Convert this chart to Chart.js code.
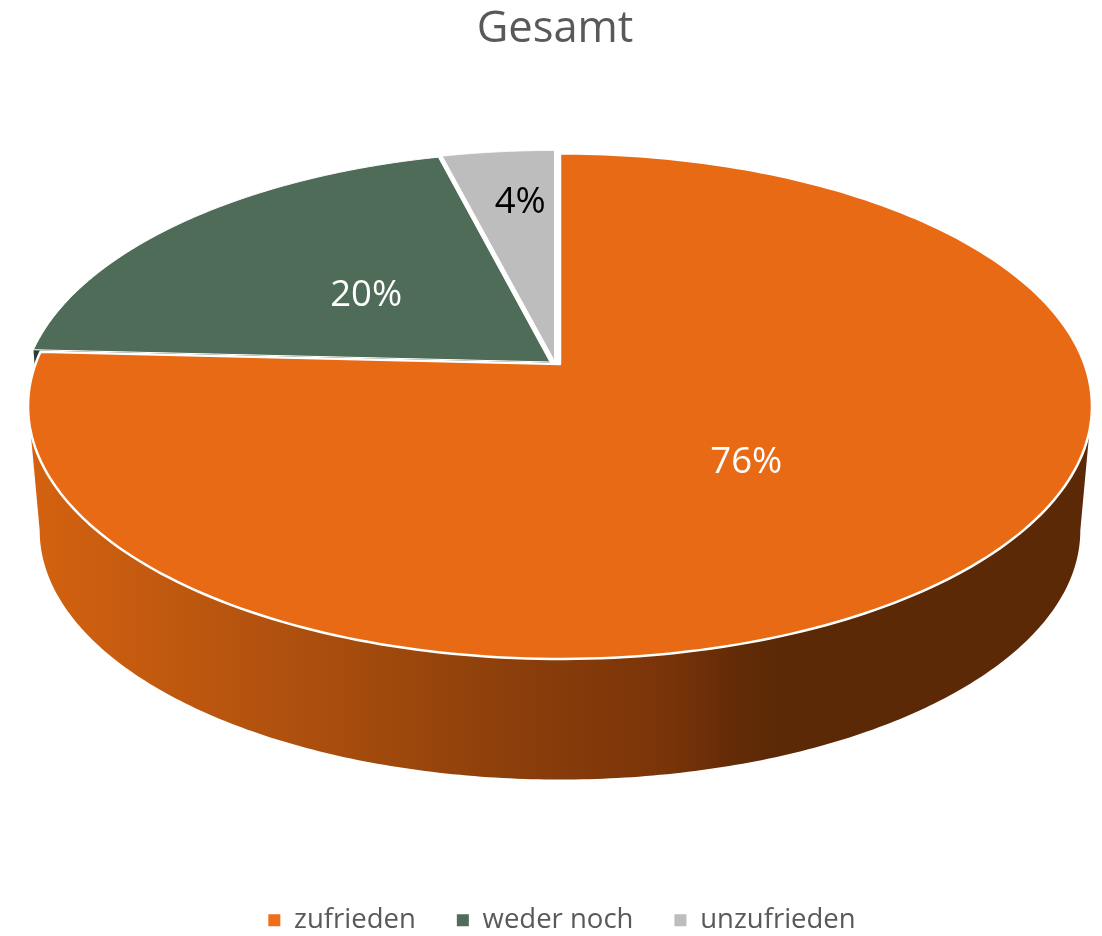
<!DOCTYPE html>
<html>
<head>
<meta charset="utf-8">
<title>Gesamt</title>
<script src="https://cdn.jsdelivr.net/npm/chart.js@4"></script>
<style>
  body { margin: 0; background: #fff; }
  canvas { display: block; }
</style>
</head>
<body>
<canvas id="pieChart" width="1102" height="936"></canvas>
<script>
const labels = ['zufrieden', 'weder noch', 'unzufrieden'];
const values = [75.8, 20.2, 4];
const legendColors = ['#F06E18', '#4F6C59', '#BDBDBD'];

// top faces, the orange one is a bit duller than its legend box
const faceColors = ['#E96A15', '#4F6C59', '#BDBDBD'];
const labelColors = ['#fff', '#fff', '#000'];
const labelRadius = [0.49, 0.47, 0.72];
const labelNudge = [[-2, 6], [-3, 3], [8, -2]];
const k = 0.167; // perspective of the tilted disc

// one projected disc per slice, the two small slices are pulled out a little
const tops = [
  { cx: 560, cy: 364, A: 524.5, B: 245.7 },
  { cx: 550, cy: 362, A: 521.5, B: 245.7 },
  { cx: 554.5, cy: 361, A: 524.5, B: 245.7 }
];
const bottomDisc = { cx: 560, cy: 489, A: 513, B: 242 };
const greenBottom = { cx: 550, cy: 487, A: 513, B: 242 };

function project(disc, angle, r = 1) {
  const den = 1 - k * r * Math.sin(angle);
  return [disc.cx + disc.A * r * Math.cos(angle) / den, disc.cy + disc.B * r * Math.sin(angle) / den];
}

function traceRim(ctx, disc, from, to) {
  const steps = 240;
  for (let i = 0; i <= steps; i++) {
    const p = project(disc, from + (to - from) * i / steps);
    ctx.lineTo(p[0], p[1]);
  }
}

const tiltedPie = {
  id: 'tiltedPie',
  afterLayout(chart) {
    // title and legend sit a little right of the middle, legend also lower
    chart.titleBlock.left += 4;
    chart.titleBlock.right += 4;
    chart.legend.left += 11;
    chart.legend.right += 11;
    chart.legend.top += 8;
    chart.legend.bottom += 8;
  },
  beforeDatasetDraw(chart) {
    const ctx = chart.ctx;
    const arcs = chart.getDatasetMeta(0).data;
    const deg = Math.PI / 180;
    ctx.save();

    // cut face of the green slice, only its tip stays visible next to the orange
    const tip = arcs[1].startAngle;
    const g1 = project(tops[1], tip);
    const g2 = project(greenBottom, tip);
    ctx.beginPath();
    ctx.moveTo(tops[1].cx, tops[1].cy);
    ctx.lineTo(g1[0], g1[1]);
    ctx.lineTo(g2[0], g2[1]);
    ctx.lineTo(greenBottom.cx, greenBottom.cy);
    ctx.closePath();
    ctx.fillStyle = '#2C3E32';
    ctx.fill();

    // orange side wall
    const wall = ctx.createLinearGradient(30, 0, 1090, 0);
    wall.addColorStop(0, '#D46210');
    wall.addColorStop(0.25, '#AE500E');
    wall.addColorStop(0.45, '#8C3F0B');
    wall.addColorStop(0.6, '#7A3409');
    wall.addColorStop(0.66, '#642C07');
    wall.addColorStop(0.7, '#5C2906');
    wall.addColorStop(1, '#5C2906');
    ctx.beginPath();
    const s = project(tops[0], 15 * deg);
    ctx.moveTo(s[0], s[1]);
    traceRim(ctx, tops[0], 15 * deg, 165 * deg);
    traceRim(ctx, bottomDisc, 170.4 * deg, 9.6 * deg);
    ctx.closePath();
    ctx.fillStyle = wall;
    ctx.fill();

    // top faces, grey and green first, orange over them
    [2, 1, 0].forEach(i => {
      const disc = tops[i];
      ctx.beginPath();
      ctx.moveTo(disc.cx, disc.cy);
      traceRim(ctx, disc, arcs[i].startAngle, arcs[i].endAngle);
      ctx.closePath();
      ctx.fillStyle = faceColors[i];
      ctx.fill();
      ctx.strokeStyle = '#fff';
      ctx.lineWidth = i === 0 ? 2.5 : 1;
      ctx.lineJoin = 'round';
      ctx.stroke();
    });

    // percent labels
    ctx.font = '36.5px "Open Sans"';
    ctx.textAlign = 'center';
    ctx.textBaseline = 'middle';
    arcs.forEach((arc, i) => {
      const mid = (arc.startAngle + arc.endAngle) / 2;
      const p = project(tops[i], mid, labelRadius[i]);
      ctx.fillStyle = labelColors[i];
      ctx.fillText(Math.round(values[i]) + '%', p[0] + labelNudge[i][0], p[1] + labelNudge[i][1]);
    });

    ctx.restore();
    return false; // the library's round arcs are not drawn
  }
};

new Chart(document.getElementById('pieChart').getContext('2d'), {
  type: 'pie',
  data: {
    labels: labels,
    datasets: [{ data: values, backgroundColor: legendColors, borderWidth: 0 }]
  },
  options: {
    responsive: false,
    animation: false,
    plugins: {
      title: {
        display: true,
        text: 'Gesamt',
        color: '#595959',
        font: { family: 'Open Sans', size: 43.5, weight: 'normal' },
        padding: { top: 4, bottom: 10 }
      },
      legend: {
        position: 'bottom',
        labels: {
          boxWidth: 12,
          boxHeight: 12,
          padding: 41,
          color: '#595959',
          font: { family: 'Open Sans', size: 27.5 }
        }
      },
      tooltip: { enabled: false }
    }
  },
  plugins: [tiltedPie]
});
</script>
</body>
</html>
